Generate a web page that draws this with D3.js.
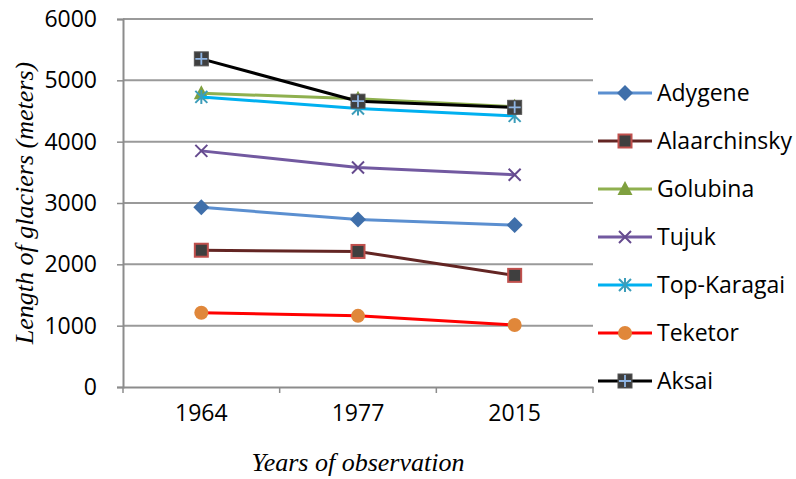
<!DOCTYPE html>
<html>
<head>
<meta charset="utf-8">
<script src="https://cdn.jsdelivr.net/npm/d3@7"></script>
<style>
  html, body { margin: 0; padding: 0; background: #fff; }
  svg { display: block; }
</style>
</head>
<body>
<svg id="chart" width="796" height="479"></svg>
<script>
// Glacier lengths (m) by year of observation
const years = ["1964", "1977", "2015"];
const yTicks = [0, 1000, 2000, 3000, 4000, 5000, 6000];

const adygene      = [2930, 2730, 2640];
const alaarchinsky = [2230, 2210, 1820];
const golubina     = [4790, 4700, 4570];
const tujuk        = [3850, 3580, 3460];
const topKaragai   = [4730, 4540, 4420];
const teketor      = [1210, 1160, 1010];
const aksai        = [5350, 4660, 4560];

const series = [
  { name: "Adygene",      values: adygene,      line: "#5B8FD0", marker: "diamond",  fill: "#3F6FAA", stroke: "#3F6FAA" },
  { name: "Alaarchinsky", values: alaarchinsky, line: "#632523", marker: "square",   fill: "#3F3F3F", stroke: "#C0504D" },
  { name: "Golubina",     values: golubina,     line: "#8FB04F", marker: "triangle", fill: "#7FA03F", stroke: "#7FA03F" },
  { name: "Tujuk",        values: tujuk,        line: "#7259A0", marker: "x",        fill: "none",    stroke: "#654A8E" },
  { name: "Top-Karagai",  values: topKaragai,   line: "#00B0F0", marker: "star",     fill: "none",    stroke: "#3C9DBA" },
  { name: "Teketor",      values: teketor,      line: "#FF0000", marker: "circle",   fill: "#E0873A", stroke: "#E0873A" },
  { name: "Aksai",        values: aksai,        line: "#000000", marker: "plusbox",  fill: "#3F3F3F", stroke: "#8EB4E3" }
];

const svg = d3.select("#chart");
const plot = { left: 123, right: 593, top: 19, bottom: 387 };

const x = d3.scaleBand().domain(years).range([plot.left, plot.right]).paddingInner(0).paddingOuter(0);
const y = d3.scaleLinear().domain([0, 6000]).range([plot.bottom, plot.top]);

// Horizontal gridlines
svg.append("g")
  .selectAll("line")
  .data(yTicks.filter(d => d > 0))
  .join("line")
  .attr("x1", plot.left).attr("x2", plot.right)
  .attr("y1", d => y(d)).attr("y2", d => y(d))
  .attr("stroke", "#9A9A9A").attr("stroke-width", 2);

// Y axis
const yAxis = svg.append("g")
  .attr("transform", `translate(${plot.left},0)`)
  .call(d3.axisLeft(y).tickValues(yTicks).tickSize(6).tickPadding(20).tickFormat(d3.format("d")));
yAxis.select(".domain").attr("stroke", "#8C8C8C").attr("stroke-width", 2);
yAxis.selectAll(".tick line").attr("stroke", "#8C8C8C").attr("stroke-width", 1.5);
yAxis.selectAll(".tick text")
  .attr("font-family", "'Open Sans', sans-serif").attr("font-size", 23).attr("fill", "#000");

// X axis
const xAxis = svg.append("g")
  .attr("transform", `translate(0,${plot.bottom})`)
  .call(d3.axisBottom(x).tickSize(0).tickPadding(18));
xAxis.select(".domain").attr("stroke", "#8C8C8C").attr("stroke-width", 2);
xAxis.selectAll(".tick text")
  .attr("font-family", "'Open Sans', sans-serif").attr("font-size", 23).attr("fill", "#000");

// Category boundary ticks on the x axis
const bounds = years.map(d => x(d)).concat([x(years[years.length - 1]) + x.bandwidth()]);
svg.append("g")
  .selectAll("line")
  .data(bounds)
  .join("line")
  .attr("x1", d => d).attr("x2", d => d)
  .attr("y1", plot.bottom).attr("y2", plot.bottom + 6)
  .attr("stroke", "#8C8C8C").attr("stroke-width", 1.5);

// Axis titles
svg.append("text")
  .attr("x", (plot.left + plot.right) / 2).attr("y", 471)
  .attr("text-anchor", "middle")
  .attr("font-family", "'Liberation Serif', 'Times New Roman', serif")
  .attr("font-style", "italic").attr("font-size", 26)
  .text("Years of observation");

svg.append("text")
  .attr("transform", `translate(33,${(plot.top + plot.bottom) / 2}) rotate(-90)`)
  .attr("text-anchor", "middle")
  .attr("font-family", "'Liberation Serif', 'Times New Roman', serif")
  .attr("font-style", "italic").attr("font-size", 26)
  .text("Length of glaciers (meters)");

// Marker drawing
function drawMarker(g, s, cx, cy) {
  const m = s.marker;
  if (m === "diamond") {
    g.append("path").attr("d", `M${cx},${cy - 8}L${cx + 8},${cy}L${cx},${cy + 8}L${cx - 8},${cy}Z`)
      .attr("fill", s.fill);
  } else if (m === "square") {
    g.append("rect").attr("x", cx - 6.5).attr("y", cy - 6.5).attr("width", 13).attr("height", 13)
      .attr("fill", s.fill).attr("stroke", s.stroke).attr("stroke-width", 2);
  } else if (m === "triangle") {
    g.append("path").attr("d", `M${cx},${cy - 8}L${cx + 7.5},${cy + 6}L${cx - 7.5},${cy + 6}Z`)
      .attr("fill", s.fill);
  } else if (m === "x") {
    g.append("path").attr("d", `M${cx - 6},${cy - 6}L${cx + 6},${cy + 6}M${cx - 6},${cy + 6}L${cx + 6},${cy - 6}`)
      .attr("stroke", s.stroke).attr("stroke-width", 2).attr("fill", "none");
  } else if (m === "star") {
    g.append("path").attr("d", `M${cx - 6},${cy - 6}L${cx + 6},${cy + 6}M${cx - 6},${cy + 6}L${cx + 6},${cy - 6}M${cx},${cy - 7}L${cx},${cy + 7}`)
      .attr("stroke", s.stroke).attr("stroke-width", 2).attr("fill", "none");
  } else if (m === "circle") {
    g.append("circle").attr("cx", cx).attr("cy", cy).attr("r", 7)
      .attr("fill", s.fill);
  } else if (m === "plusbox") {
    g.append("rect").attr("x", cx - 7).attr("y", cy - 7).attr("width", 14).attr("height", 14)
      .attr("fill", s.fill).attr("stroke", "#555").attr("stroke-width", 1);
    g.append("path").attr("d", `M${cx - 6},${cy}L${cx + 6},${cy}M${cx},${cy - 6}L${cx},${cy + 6}`)
      .attr("stroke", s.stroke).attr("stroke-width", 1.8);
  }
}

const cx = d => x(d) + x.bandwidth() / 2;
const lineGen = d3.line().x(d => cx(d.year)).y(d => y(d.value));

// Series lines and markers
series.forEach(s => {
  const pts = years.map((yr, i) => ({ year: yr, value: s.values[i] }));
  const g = svg.append("g");
  g.append("path").datum(pts)
    .attr("d", lineGen).attr("fill", "none")
    .attr("stroke", s.line).attr("stroke-width", 3).attr("stroke-linejoin", "round");
  pts.forEach(p => drawMarker(g, s, cx(p.year), y(p.value)));
});

// Legend
const legend = svg.append("g");
const legendY = d3.scalePoint().domain(series.map(s => s.name)).range([93, 381]);
series.forEach(s => {
  const ly = legendY(s.name);
  const g = legend.append("g");
  g.append("line").attr("x1", 598).attr("x2", 652).attr("y1", ly).attr("y2", ly)
    .attr("stroke", s.line).attr("stroke-width", 3);
  drawMarker(g, s, 625, ly);
  g.append("text").attr("x", 657).attr("y", ly + 8)
    .attr("font-family", "'Open Sans', sans-serif").attr("font-size", 23).attr("fill", "#000")
    .text(s.name);
});
</script>
</body>
</html>
